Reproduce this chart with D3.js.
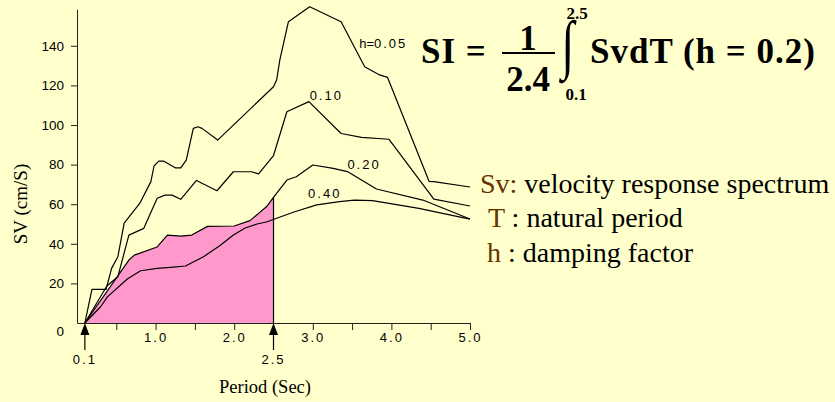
<!DOCTYPE html>
<html>
<head>
<meta charset="utf-8">
<script src="https://cdn.jsdelivr.net/npm/d3@7"></script>
<style>
html, body { margin: 0; padding: 0; background: #ffffcc; }
svg { display: block; }
</style>
</head>
<body>
<div id="chart"></div>
<script>
// velocity response spectra, [period (s), Sv (cm/s)] per damping factor
const svH005 = [[0.1, 0], [0.19, 17], [0.37, 17], [0.44, 27.6], [0.52, 33.5], [0.6, 50.4], [0.8, 60.5],
    [0.94, 71.4], [0.98, 79.3], [1.04, 81.8], [1.1, 81.8], [1.25, 78.4], [1.32, 78.4], [1.39, 82.3],
    [1.48, 98.3], [1.54, 99.1], [1.59, 98.3], [1.79, 92.4], [2.5, 119.3], [2.54, 122.7], [2.58, 132.8],
    [2.69, 152.2], [2.96, 159.7], [3.36, 152.2], [3.66, 129.4], [3.85, 125.3], [3.95, 124.1],
    [4.48, 71.5], [4.54, 71.4], [5.0, 68.7]];
const svH010 = [[0.1, 0], [0.38, 18.7], [0.52, 23.4], [0.66, 44.4], [0.85, 47.8], [1.02, 63], [1.12, 64.6],
    [1.21, 64.6], [1.32, 62.5], [1.52, 72], [1.78, 66.8], [1.99, 76.4], [2.22, 76.4], [2.31, 75.3],
    [2.5, 84.6], [2.67, 106.7], [2.95, 111.8], [3.36, 95.7], [3.62, 93.8], [3.97, 92.8], [4.54, 62.6],
    [5.0, 59.1]];
const svH020 = [[0.1, 0], [0.66, 31.8], [0.73, 34.3], [1.02, 38.4], [1.15, 44.4], [1.32, 43.9], [1.46, 44.4],
    [1.66, 48.8], [2.0, 49.0], [2.2, 51.7], [2.41, 58.7], [2.5, 63.5], [2.67, 72.2], [2.79, 73.9],
    [3.0, 79.8], [3.26, 78.1], [3.44, 76.5], [3.81, 67.7], [4.4, 62.1], [5.0, 52.5]];
const svH040 = [[0.1, 0], [0.3, 8.2], [0.39, 13.3], [0.64, 22.2], [0.81, 26.4], [1.02, 27.6], [1.19, 28.1],
    [1.38, 28.8], [1.61, 33.5], [1.82, 39.1], [1.99, 44.4], [2.14, 48], [2.29, 50], [2.41, 51],
    [2.54, 52.9], [2.77, 56.2], [3.05, 59.7], [3.34, 61.3], [3.53, 62.1], [3.76, 61.8], [4.35, 57.9],
    [4.65, 55.4], [5.0, 52.5]];

const curveLabels = ['h=0.05', '0.10', '0.20', '0.40'];
const xTicks = [0.5, 1, 1.5, 2, 3, 3.5, 4, 4.5, 5];
const xTickLabels = [1, 2, 3, 4, 5];
const yTicks = [0, 20, 40, 60, 80, 100, 120, 140];
const siRange = [0.1, 2.5];
const legendRows = [['Sv:', ' velocity response spectrum'], ['T', ' : natural period'], ['h', ' : damping factor']];

const series = [svH005, svH010, svH020, svH040];
// where each curve label sits, in chart units
const labelAt = [[3.59, 138.9], [2.96, 112.6], [3.44, 77.8], [2.94, 63.1]];

const W = 835, H = 402;
const sans = '"Liberation Sans", Arial, sans-serif';
const serif = '"Liberation Serif", "Times New Roman", serif';

const x = d3.scaleLinear().domain([0, 5]).range([77, 470]);
const y = d3.scaleLinear().domain([0, 158.5]).range([323, 9.2]);

const svg = d3.select('#chart').append('svg')
    .attr('width', W)
    .attr('height', H);

svg.append('rect')
    .attr('width', W)
    .attr('height', H)
    .attr('fill', '#ffffcc');

// shaded SI integral under h = 0.2
svg.append('clipPath')
    .attr('id', 'si-clip')
    .append('rect')
    .attr('x', x(siRange[0]))
    .attr('y', 0)
    .attr('width', x(siRange[1]) - x(siRange[0]))
    .attr('height', H);

const area = d3.area()
    .x(d => x(d[0]))
    .y0(y(0))
    .y1(d => y(d[1]));

svg.append('path')
    .datum(svH020)
    .attr('clip-path', 'url(#si-clip)')
    .attr('fill', '#ff99cc')
    .attr('d', area);

// axes
const yAxis = svg.append('g')
    .attr('transform', `translate(${x(0)},0)`)
    .call(d3.axisLeft(y).tickValues(yTicks).tickSize(6).tickSizeOuter(0).tickPadding(7));
yAxis.selectAll('text')
    .attr('font-family', sans)
    .attr('font-size', 13.5)
    .attr('fill', '#000')
    .attr('dy', d => d === 0 ? '0.95em' : '0.32em');
yAxis.selectAll('.tick line').filter(d => d === 0).remove();

const xAxis = svg.append('g')
    .attr('transform', `translate(0,${y(0)})`)
    .call(d3.axisBottom(x).tickValues(xTicks).tickSize(7).tickSizeOuter(0)
        .tickFormat(d => xTickLabels.includes(d) ? d3.format('.1f')(d) : ''));
xAxis.selectAll('text')
    .attr('font-family', sans)
    .attr('font-size', 13)
    .attr('letter-spacing', 2)
    .attr('fill', '#000')
    .attr('y', 10)
    .attr('dy', '0.71em');
svg.selectAll('.domain, .tick line').attr('stroke', '#222');

// curves
const line = d3.line()
    .x(d => x(d[0]))
    .y(d => y(d[1]));

svg.selectAll('.curve')
    .data(series)
    .enter().append('path')
    .attr('class', 'curve')
    .attr('fill', 'none')
    .attr('stroke', '#000')
    .attr('stroke-width', 1.2)
    .attr('stroke-linejoin', 'round')
    .attr('d', line);

const labels = svg.selectAll('.clabel')
    .data(curveLabels)
    .enter().append('text')
    .attr('class', 'clabel')
    .attr('x', (d, i) => x(labelAt[i][0]))
    .attr('y', (d, i) => y(labelAt[i][1]))
    .attr('font-family', sans)
    .attr('font-size', 13);
labels.append('tspan')
    .text(d => d.replace(/[\d.]+$/, ''));
labels.append('tspan')
    .attr('letter-spacing', 2)
    .text(d => d.match(/[\d.]+$/)[0]);

// integration limits
svg.append('line')
    .attr('x1', x(siRange[1]))
    .attr('x2', x(siRange[1]))
    .attr('y1', y(0))
    .attr('y2', y(svH020.find(d => d[0] === siRange[1])[1]))
    .attr('stroke', '#000')
    .attr('stroke-width', 1.2);

const marks = svg.selectAll('.limit')
    .data(siRange)
    .enter().append('g')
    .attr('class', 'limit')
    .attr('transform', d => `translate(${x(d)},${y(0)})`);
marks.append('line')
    .attr('y1', 8)
    .attr('y2', 27)
    .attr('stroke', '#000')
    .attr('stroke-width', 1.2);
marks.append('path')
    .attr('d', 'M0,0L4.5,12L-4.5,12Z')
    .attr('fill', '#000');
marks.append('text')
    .attr('y', 41)
    .attr('text-anchor', 'middle')
    .attr('font-family', sans)
    .attr('font-size', 13)
    .attr('letter-spacing', 2)
    .text(d => d3.format('.1f')(d));

// axis titles
svg.append('text')
    .attr('x', 265)
    .attr('y', 393)
    .attr('text-anchor', 'middle')
    .attr('font-family', serif)
    .attr('font-size', 18.5)
    .text('Period (Sec)');

svg.append('text')
    .attr('transform', 'translate(27,204) rotate(-90)')
    .attr('text-anchor', 'middle')
    .attr('font-family', serif)
    .attr('font-size', 19)
    .text('SV (cm/S)');

// SI formula
const f = svg.append('g')
    .style('font-family', serif)
    .style('font-weight', 'bold')
    .attr('fill', '#000');
f.append('text').attr('x', 421).attr('y', 63).attr('font-size', 35).attr('letter-spacing', 1).text('SI =');
f.append('text').attr('x', 528).attr('y', 50).attr('font-size', 35).attr('text-anchor', 'middle').text('1');
f.append('line').attr('x1', 502).attr('x2', 555).attr('y1', 53).attr('y2', 53).attr('stroke', '#000').attr('stroke-width', 2);
f.append('text').attr('x', 528).attr('y', 90.5).attr('font-size', 35).attr('text-anchor', 'middle').text('2.4');
f.append('text')
    .attr('transform', 'translate(568,66) scale(0.72,1)')
    .attr('font-size', 65)
    .style('font-weight', 'normal')
    .attr('text-anchor', 'middle')
    .text('∫');
f.append('text').attr('x', 577).attr('y', 18.5).attr('font-size', 17).attr('text-anchor', 'middle').text(d3.format('.1f')(siRange[1]));
f.append('text').attr('x', 576).attr('y', 100).attr('font-size', 17).attr('text-anchor', 'middle').text(d3.format('.1f')(siRange[0]));
f.append('text').attr('x', 590).attr('y', 63).attr('font-size', 35).attr('letter-spacing', 1).text('SvdT (h = 0.2)');

// legend of symbols
const legX = [480, 488, 487];
const leg = svg.selectAll('.leg')
    .data(legendRows)
    .enter().append('text')
    .attr('class', 'leg')
    .attr('x', (d, i) => legX[i])
    .attr('y', (d, i) => 193 + i * 34.3)
    .style('font-family', serif)
    .attr('font-size', 28)
    .style('white-space', 'pre');
leg.append('tspan').attr('fill', '#663300').text(d => d[0]);
leg.append('tspan').attr('fill', '#000').text(d => d[1]);
</script>
</body>
</html>
